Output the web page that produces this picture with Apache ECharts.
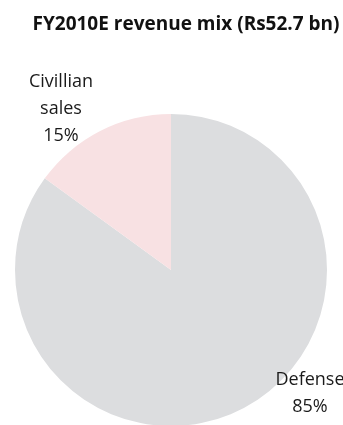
<!DOCTYPE html>
<html>
<head>
<meta charset="utf-8">
<script src="https://cdn.jsdelivr.net/npm/echarts@6/dist/echarts.min.js"></script>
<style>
html,body{margin:0;padding:0;background:#fff;}
#chart{width:343px;height:425px;}
</style>
</head>
<body>
<div id="chart"></div>
<script>
const titleText = "FY2010E revenue mix (Rs52.7 bn)";
const categories = ["Defense", "Civillian sales"];
const labelNames = ["Defense", "Civillian\nsales"];
const values = [85, 15];
const colors = ["#dcdddf", "#f8e1e3"];

const labelPos = [
  {x: 310, y: 393.5},
  {x: 61, y: 109}
];

const chart = echarts.init(document.getElementById('chart'), null, {renderer: 'canvas'});
chart.setOption({
  animation: false,
  title: {
    text: titleText,
    left: 181,
    top: 10,
    textAlign: 'center',
    textStyle: {fontFamily: 'Open Sans', fontWeight: 'bold', fontSize: 19, color: '#111'}
  },
  series: [{
    type: 'pie',
    center: [171, 270],
    radius: 156,
    startAngle: 90,
    clockwise: true,
    silent: true,
    emphasis: {disabled: true},
    labelLine: {show: false},
    avoidLabelOverlap: false,
    label: {
      show: true,
      position: 'outside',
      alignTo: 'none',
      overflow: 'none',
      width: 200,
      fontFamily: 'Open Sans',
      fontSize: 18,
      lineHeight: 27,
      color: '#1a1a1a',
      align: 'center',
      formatter: function (p) { return labelNames[p.dataIndex] + '\n' + p.value + '%'; }
    },
    labelLayout: function (p) {
      return {x: labelPos[p.dataIndex].x, y: labelPos[p.dataIndex].y, align: 'center', verticalAlign: 'middle', hideOverlap: false};
    },
    itemStyle: {borderWidth: 0},
    data: categories.map((c, i) => ({name: c, value: values[i], itemStyle: {color: colors[i]}}))
  }]
});
</script>
</body>
</html>
